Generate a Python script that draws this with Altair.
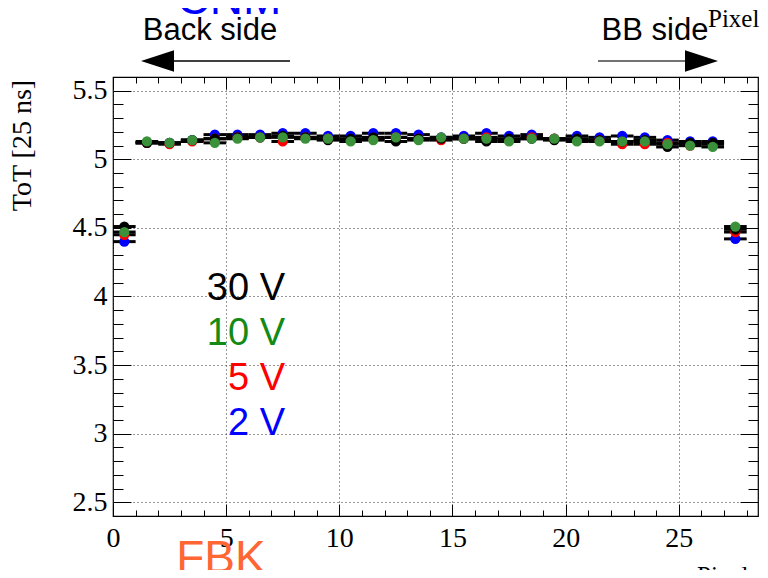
import altair as alt
import pandas as pd

# ---------------- data ----------------
pixel = [0.5, 1.5, 2.5, 3.5, 4.5, 5.5, 6.5, 7.5, 8.5, 9.5, 10.5, 11.5, 12.5, 13.5,
         14.5, 15.5, 16.5, 17.5, 18.5, 19.5, 20.5, 21.5, 22.5, 23.5, 24.5, 25.5, 26.5, 27.5]

tot_30V = [4.51, 5.12, 5.12, 5.14, 5.15, 5.16, 5.16, 5.17, 5.16, 5.14, 5.15, 5.16, 5.13, 5.15,
           5.15, 5.15, 5.13, 5.15, 5.15, 5.14, 5.15, 5.14, 5.13, 5.14, 5.09, 5.12, 5.12, 4.49]
tot_10V = [4.47, 5.13, 5.12, 5.14, 5.12, 5.15, 5.16, 5.16, 5.15, 5.15, 5.13, 5.14, 5.16, 5.14,
           5.16, 5.15, 5.15, 5.13, 5.15, 5.15, 5.13, 5.13, 5.13, 5.13, 5.11, 5.10, 5.09, 4.51]
tot_5V = [4.45, 5.12, 5.11, 5.13, 5.15, 5.16, 5.16, 5.13, 5.16, 5.15, 5.14, 5.15, 5.16, 5.15,
          5.14, 5.15, 5.16, 5.14, 5.16, 5.15, 5.14, 5.14, 5.11, 5.11, 5.12, 5.10, 5.11, 4.47]
tot_2V = [4.40, 5.12, 5.12, 5.14, 5.18, 5.18, 5.18, 5.19, 5.19, 5.17, 5.17, 5.19, 5.19, 5.18,
          5.16, 5.17, 5.19, 5.17, 5.18, 5.15, 5.17, 5.16, 5.17, 5.16, 5.14, 5.13, 5.13, 4.42]
tot_err = 0.01
pixel_halfwidth = 0.5

# draw order: 2 V, 5 V, 30 V, 10 V (10 V on top)
series_names = ["2 V", "5 V", "30 V", "10 V"]
series_values = [tot_2V, tot_5V, tot_30V, tot_10V]
series_colors = ["#0000ff", "#ff0000", "#000000", "#3a913a"]

legend_labels = ["30 V", "10 V", "5 V", "2 V"]
legend_colors = ["#000000", "#138a13", "#ff0000", "#0000ff"]

x_major = [0, 5, 10, 15, 20, 25]
y_major = [2.5, 3, 3.5, 4, 4.5, 5, 5.5]
x_minor = list(range(0, 29))
y_minor = [round(2.4 + 0.1 * i, 1) for i in range(33)]

rows = []
for name, vals in zip(series_names, series_values):
    for p, v in zip(pixel, vals):
        rows.append({"pixel": p, "tot": v, "series": name})
df = pd.DataFrame(rows)

# ---------------- layout ----------------
W, H = 645, 439
SERIF = "Liberation Serif"
SANS = "Liberation Sans"

xscale = alt.Scale(domain=[0, 28.5], nice=False, zero=False)
yscale = alt.Scale(domain=[2.4, 5.6], nice=False, zero=False)


def tick_axis(orient, values, size, offset):
    return alt.Axis(orient=orient, values=values, tickSize=size, offset=offset,
                    labels=False, domain=False, grid=False, title=None,
                    ticks=True, tickColor="black", tickWidth=1)


main_x_axis = alt.Axis(values=x_major, ticks=False, domain=False, grid=True,
                       gridDash=[1, 3], gridColor="#333333", gridWidth=1, gridOpacity=1,
                       labelFont=SERIF, labelFontSize=28, labelColor="black",
                       labelPadding=8, labelFlush=False, labelOverlap=False,
                       format="~g", title=None)
main_y_axis = alt.Axis(values=y_major, ticks=False, domain=False, grid=True,
                       gridDash=[1, 3], gridColor="#333333", gridWidth=1, gridOpacity=1,
                       labelFont=SERIF, labelFontSize=28, labelColor="black",
                       labelPadding=6, labelFlush=False, labelOverlap=False,
                       format="~g", title="ToT [25 ns]", titleFont=SERIF,
                       titleFontSize=28, titleFontWeight="normal", titleColor="black",
                       titleX=-91, titleY=68, titleAngle=270, titleAlign="center",
                       titleBaseline="middle")

base = alt.Chart(df)

hbars = base.mark_rule(color="black", strokeWidth=3).transform_calculate(
    xlo=f"datum.pixel - {pixel_halfwidth}", xhi=f"datum.pixel + {pixel_halfwidth}"
).encode(
    x=alt.X("xlo:Q", scale=xscale, axis=tick_axis("top", x_major, 12, -H)),
    x2="xhi:Q",
    y=alt.Y("tot:Q", scale=yscale, axis=tick_axis("right", y_major, 18, -W)),
)

vbars = base.mark_rule(color="black", strokeWidth=2).transform_calculate(
    ylo=f"datum.tot - {tot_err}", yhi=f"datum.tot + {tot_err}"
).encode(
    x=alt.X("pixel:Q", scale=xscale, axis=tick_axis("top", x_minor, 6, -H)),
    y=alt.Y("ylo:Q", scale=yscale, axis=tick_axis("right", y_minor, 10, -W)),
    y2="yhi:Q",
)

ghost1 = base.mark_point(opacity=0).encode(
    x=alt.X("pixel:Q", scale=xscale, axis=tick_axis("bottom", x_major, 12, -H)),
    y=alt.Y("tot:Q", scale=yscale, axis=tick_axis("left", y_major, 18, -W)),
)
ghost2 = base.mark_point(opacity=0).encode(
    x=alt.X("pixel:Q", scale=xscale, axis=tick_axis("bottom", x_minor, 6, -H)),
    y=alt.Y("tot:Q", scale=yscale, axis=tick_axis("left", y_minor, 10, -W)),
)

points = base.mark_circle(size=105, opacity=1).encode(
    x=alt.X("pixel:Q", scale=xscale, axis=main_x_axis),
    y=alt.Y("tot:Q", scale=yscale, axis=main_y_axis),
    color=alt.Color("series:N", scale=alt.Scale(domain=series_names, range=series_colors),
                    legend=None),
)

dummy = pd.DataFrame({"d": [0]})


def label(text, px, py, size, color, font=SANS, align="center"):
    return alt.Chart(dummy).mark_text(
        text=text, font=font, fontSize=size, color=color, align=align,
        baseline="alphabetic"
    ).encode(x=alt.value(px), y=alt.value(py))


texts = [
    label("CNM", 116, -63, 46, "#0000ff"),
    label("Back side", 97, -37, 31, "#000000"),
    label("BB side", 542, -37, 31, "#000000"),
    label("Pixel", 595, -50, 25, "#000000", font=SERIF, align="left"),
    label("Pixel", 584, 507, 25, "#000000", font=SERIF, align="left"),
    label("FBK", 108, 496, 46, "#ff6633"),
]
legend_y = [223, 268, 313, 358]
for t, c, py in zip(legend_labels, legend_colors, legend_y):
    texts.append(label(t, 172, py, 38, c, align="right"))

arrow_left_line = alt.Chart(dummy).mark_rule(color="black", strokeWidth=1.3).encode(
    x=alt.value(60), x2=alt.value(177), y=alt.value(-16))
arrow_left_head = alt.Chart(dummy).mark_point(
    shape="M -1 0 L 1 -0.65 L 1 0.65 Z", filled=True, color="black", opacity=1,
    size=1089, strokeWidth=0).encode(x=alt.value(44.5), y=alt.value(-16))
arrow_right_line = alt.Chart(dummy).mark_rule(color="#444444", strokeWidth=1.3).encode(
    x=alt.value(485), x2=alt.value(573), y=alt.value(-16))
arrow_right_head = alt.Chart(dummy).mark_point(
    shape="M 1 0 L -1 -0.65 L -1 0.65 Z", filled=True, color="black", opacity=1,
    size=1089, strokeWidth=0).encode(x=alt.value(588.5), y=alt.value(-16))
red_mark = alt.Chart(dummy).mark_rule(color="#ff0000", strokeWidth=3).encode(
    x=alt.value(648), x2=alt.value(656), y=alt.value(371))

chart = alt.layer(
    hbars, vbars, ghost1, ghost2, points,
    *texts, arrow_left_line, arrow_left_head, arrow_right_line, arrow_right_head, red_mark,
).resolve_axis(x="independent", y="independent").properties(
    width=W, height=H,
    autosize=alt.AutoSizeParams(type="none"),
    padding={"left": 105, "top": 69, "right": 2, "bottom": 54},
    background="white",
).configure_view(stroke="black", strokeWidth=1.2)

chart.save("out.html", embed_options={"renderer": "svg", "actions": False})
